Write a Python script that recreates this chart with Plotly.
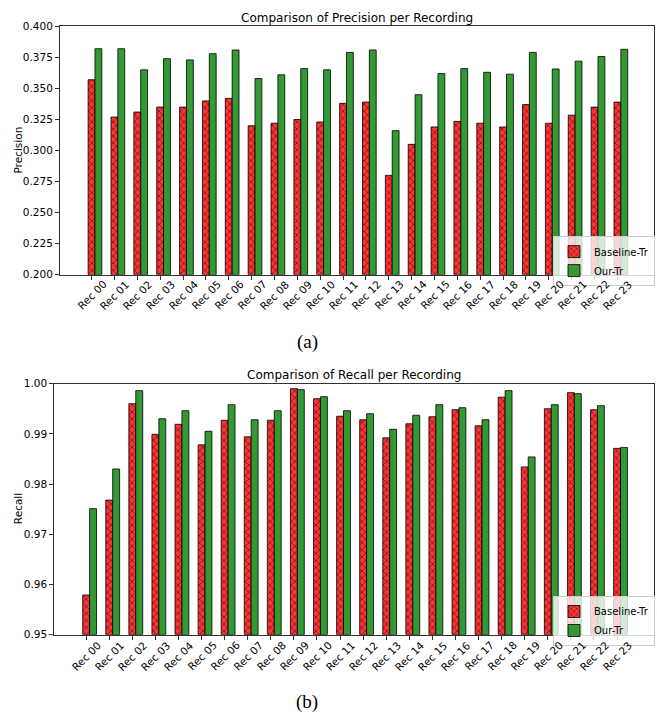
import plotly.graph_objects as go

recordings = [f"Rec {i:02d}" for i in range(24)]
precision_baseline = [0.357, 0.327, 0.331, 0.335, 0.335, 0.340, 0.342, 0.320, 0.322, 0.325,
                      0.323, 0.338, 0.339, 0.280, 0.305, 0.319, 0.3235, 0.322, 0.319, 0.337,
                      0.322, 0.3285, 0.335, 0.339]
precision_ours = [0.382, 0.382, 0.365, 0.374, 0.373, 0.378, 0.381, 0.358, 0.361, 0.366,
                  0.365, 0.379, 0.381, 0.316, 0.345, 0.362, 0.366, 0.363, 0.3615, 0.379,
                  0.3657, 0.372, 0.3757, 0.3815]
recall_baseline = [0.9579, 0.9768, 0.9960, 0.9899, 0.9919, 0.9878, 0.9927, 0.9894, 0.9927, 0.9990,
                   0.9970, 0.9935, 0.9928, 0.9892, 0.9920, 0.9934, 0.9948, 0.9916, 0.9973, 0.9834,
                   0.9950, 0.9982, 0.9948, 0.9871]
recall_ours = [0.9751, 0.9830, 0.9986, 0.9930, 0.9946, 0.9905, 0.9958, 0.9928, 0.9946, 0.9988,
               0.9974, 0.9946, 0.9940, 0.9909, 0.9937, 0.9958, 0.9952, 0.9928, 0.9986, 0.9854,
               0.9958, 0.9980, 0.9956, 0.9873]
series_names = ["Baseline-Tr", "Our-Tr"]
prec_ticks = [0.200, 0.225, 0.250, 0.275, 0.300, 0.325, 0.350, 0.375, 0.400]
rec_ticks = [0.95, 0.96, 0.97, 0.98, 0.99, 1.00]

W, H = 657, 721
width = 0.3
idx = list(range(len(recordings)))
RED = "#ff3333"
GREEN = "#339933"
FONT = "DejaVu Sans"

fig = go.Figure()

def add_pair(base, ours, xa, ya, legend, base_val):
    fig.add_trace(go.Bar(
        x=idx, y=[v - base_val for v in base], base=base_val, width=width,
        name=series_names[0], xaxis=xa, yaxis=ya, legend=legend,
        marker=dict(color=RED, line=dict(color="black", width=0.8),
                    pattern=dict(shape="x", fgcolor="black", size=5, solidity=0.3)),
    ))
    fig.add_trace(go.Bar(
        x=[i + width for i in idx], y=[v - base_val for v in ours], base=base_val, width=width,
        name=series_names[1], xaxis=xa, yaxis=ya, legend=legend,
        marker=dict(color=GREEN, line=dict(color="black", width=0.8)),
    ))

add_pair(precision_baseline, precision_ours, "x", "y", "legend", 0.2)
add_pair(recall_baseline, recall_ours, "x2", "y2", "legend2", 0.95)

def px_x(p):
    return p / W

def px_y(p):
    return 1 - p / H

top = (20.7, 273.3, 60.0, 654.0)
bot = (384.0, 639.3, 54.3, 654.0)

axis_common = dict(showline=True, linecolor="#333333", linewidth=1, mirror=True,
                   ticks="outside", ticklen=4, tickcolor="#333333", showgrid=False,
                   zeroline=False, tickfont=dict(family=FONT, size=10.5, color="black"))

xr = [-1.38, 24.6]
legend_common = dict(xanchor="left", yanchor="top",
                     bgcolor="rgba(255,255,255,0.8)", bordercolor="#cccccc", borderwidth=1,
                     font=dict(family=FONT, size=10), tracegroupgap=0, itemwidth=30)
fig.update_layout(
    xaxis=dict(domain=[px_x(top[2]), px_x(top[3])], range=xr, anchor="y",
               tickmode="array", tickvals=idx, showticklabels=False, **axis_common),
    yaxis=dict(domain=[px_y(top[1]), px_y(top[0])], range=[0.2, 0.4], anchor="x",
               tickmode="array", tickvals=prec_ticks, ticktext=[f"{t:.3f}" for t in prec_ticks],
               **axis_common),
    xaxis2=dict(domain=[px_x(bot[2]), px_x(bot[3])], range=xr, anchor="y2",
                tickmode="array", tickvals=idx, showticklabels=False, **axis_common),
    yaxis2=dict(domain=[px_y(bot[1]), px_y(bot[0])], range=[0.95, 1.0], anchor="x2",
                tickmode="array", tickvals=rec_ticks, ticktext=[f"{t:.2f}" for t in rec_ticks],
                **axis_common),
    barmode="overlay",
    width=W, height=H,
    margin=dict(l=0, r=0, t=0, b=0),
    paper_bgcolor="white", plot_bgcolor="white",
    font=dict(family=FONT, color="black"),
    legend=dict(x=px_x(553), y=px_y(234), **legend_common),
    legend2=dict(x=px_x(553), y=px_y(600), **legend_common),
    showlegend=True,
)

# rotated, centre-aligned category labels
for xref, yc in (("x", 293.5), ("x2", 660.5)):
    for i, lab in zip(idx, recordings):
        fig.add_annotation(xref=xref, yref="paper", x=i, y=px_y(yc), text=lab,
                           textangle=-45, showarrow=False, xanchor="center", yanchor="middle",
                           font=dict(family=FONT, size=10.5, color="black"))

annos = [
    dict(text="Comparison of Precision per Recording", x=px_x((top[2] + top[3]) / 2), y=px_y(12),
         font=dict(size=12)),
    dict(text="Comparison of Recall per Recording", x=px_x((bot[2] + bot[3]) / 2), y=px_y(375),
         font=dict(size=12)),
    dict(text="Precision", x=px_x(18), y=px_y((top[0] + top[1]) / 2), textangle=-90,
         font=dict(size=10.5)),
    dict(text="Recall", x=px_x(18), y=px_y((bot[0] + bot[1]) / 2), textangle=-90,
         font=dict(size=10.5)),
    dict(text="(a)", x=px_x(307), y=px_y(342), font=dict(family="Liberation Serif", size=19)),
    dict(text="(b)", x=px_x(307), y=px_y(708), font=dict(family="Liberation Serif", size=19)),
]
for a in annos:
    fig.add_annotation(xref="paper", yref="paper", showarrow=False,
                       xanchor="center", yanchor="middle", **a)

fig.write_html("out.html", config={"displayModeBar": False},
               post_script="document.body.style.margin='0';document.body.style.overflow='hidden';")
